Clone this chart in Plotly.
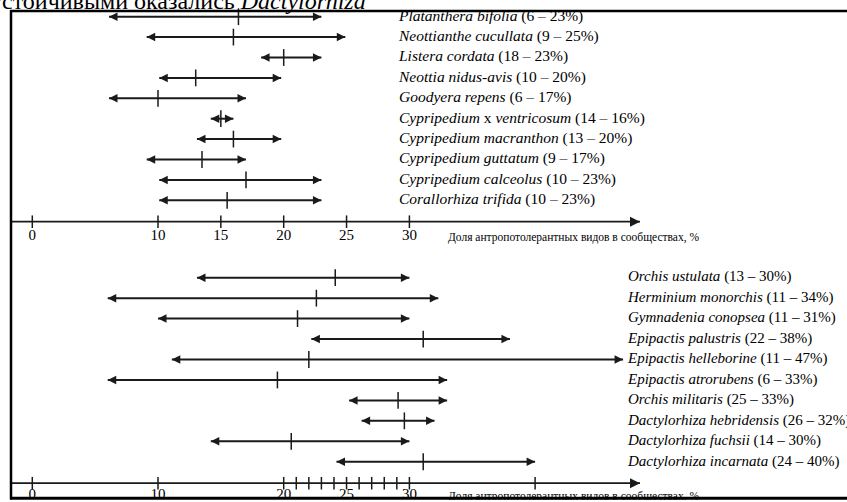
import plotly.graph_objects as go

# ---------------- data ----------------
top_species = [
    "<i>Platanthera bifolia</i>",
    "<i>Neottianthe cucullata</i>",
    "<i>Listera cordata</i>",
    "<i>Neottia nidus-avis</i>",
    "<i>Goodyera repens</i>",
    "<i>Cypripedium</i> x <i>ventricosum</i>",
    "<i>Cypripedium macranthon</i>",
    "<i>Cypripedium guttatum</i>",
    "<i>Cypripedium calceolus</i>",
    "<i>Corallorhiza trifida</i>",
]
top_ranges = ["(6 – 23%)", "(9 – 25%)", "(18 – 23%)", "(10 – 20%)", "(6 – 17%)",
              "(14 – 16%)", "(13 – 20%)", "(9 – 17%)", "(10 – 23%)", "(10 – 23%)"]
top_low = [6.1, 9.1, 18.2, 10.1, 6.1, 14.2, 13.1, 9.1, 10.1, 10.1]
top_high = [23.0, 24.9, 23.0, 19.8, 17.0, 16.0, 19.8, 17.0, 23.0, 23.0]
top_mid = [16.4, 16.0, 20.0, 13.0, 10.0, 15.0, 16.0, 13.5, 17.0, 15.5]

bottom_species = [
    "<i>Orchis ustulata</i>",
    "<i>Herminium monorchis</i>",
    "<i>Gymnadenia conopsea</i>",
    "<i>Epipactis palustris</i>",
    "<i>Epipactis helleborine</i>",
    "<i>Epipactis atrorubens</i>",
    "<i>Orchis militaris</i>",
    "<i>Dactylorhiza hebridensis</i>",
    "<i>Dactylorhiza fuchsii</i>",
    "<i>Dactylorhiza incarnata</i>",
]
bottom_ranges = ["(13 – 30%)", "(11 – 34%)", "(11 – 31%)", "(22 – 38%)", "(11 – 47%)",
                 "(6 – 33%)", "(25 – 33%)", "(26 – 32%)", "(14 – 30%)", "(24 – 40%)"]
bottom_low = [13.1, 6.0, 10.0, 22.2, 11.1, 6.0, 25.2, 26.2, 14.2, 24.2]
bottom_high = [30.0, 32.3, 30.0, 38.0, 47.0, 33.0, 33.0, 32.0, 30.0, 40.0]
bottom_mid = [24.1, 22.6, 21.1, 31.1, 22.0, 19.5, 29.1, 29.6, 20.6, 31.1]

top_tick_vals = [0, 10, 15, 20, 25, 30]
top_tick_labels = ["0", "10", "15", "20", "25", "30"]
bottom_tick_vals = [0, 10, 20, 21, 22, 23, 24, 25, 26, 27, 28, 29, 30, 40]
bottom_tick_labels = ["0", "10", "20", "", "", "", "", "25", "", "", "", "", "30", ""]

axis_title = "Доля антропотолерантных видов в сообществах, %"
heading = "устойчивыми оказались <i>Dactylorhiza</i>"

# ---------------- geometry / style ----------------
W, H = 847, 502
PX_ZERO = 32.3          # pixel of value 0
PX_PER_UNIT = 12.57     # pixels per percent
INK = "#1a1a1a"
FONT = "Liberation Serif, Times New Roman, serif"

TOP_ROW0_PX, TOP_STEP = 16.7, 20.4
BOT_ROW0_PX, BOT_STEP = 277.7, 20.45
AXIS_ROW_TOP = 10.05
AXIS_ROW_BOT = 10.05


def px_to_x(px):
    return (px - PX_ZERO) / PX_PER_UNIT


def yrange(row0_px, step):
    return [(H - row0_px) / step, (0 - row0_px) / step]


fig = go.Figure()


def add_panel(species, ranges, low, high, mid, yaxis, label_px,
              tick_vals, tick_labels, axis_row, label_size, ticklabel_offset):
    rows = list(range(len(species)))
    lx, ly = [], []
    for r, a, b in zip(rows, low, high):
        lx += [a, b, None]
        ly += [r, r, None]
    fig.add_trace(go.Scatter(x=lx, y=ly, yaxis=yaxis, mode="lines",
                             line=dict(color=INK, width=2), hoverinfo="skip"))
    fig.add_trace(go.Scatter(x=low, y=rows, yaxis=yaxis, mode="markers",
                             marker=dict(symbol="arrow-left", size=8.5, color=INK,
                                         line=dict(width=0)), hoverinfo="skip"))
    fig.add_trace(go.Scatter(x=high, y=rows, yaxis=yaxis, mode="markers",
                             marker=dict(symbol="arrow-right", size=8.5, color=INK,
                                         line=dict(width=0)), hoverinfo="skip"))
    fig.add_trace(go.Scatter(x=mid, y=rows, yaxis=yaxis, mode="markers",
                             marker=dict(symbol="line-ns", size=12,
                                         line=dict(color=INK, width=1.5)),
                             hoverinfo="skip"))
    labels = [f"{s} {rg}" for s, rg in zip(species, ranges)]
    fig.add_trace(go.Scatter(x=[px_to_x(label_px)] * len(rows), y=rows, yaxis=yaxis,
                             mode="text", text=labels, textposition="middle right",
                             textfont=dict(family=FONT, size=label_size, color="black"),
                             hoverinfo="skip"))
    # axis line with arrow
    x0, x1 = px_to_x(11), px_to_x(640)
    fig.add_trace(go.Scatter(x=[x0, x1], y=[axis_row, axis_row], yaxis=yaxis,
                             mode="lines", line=dict(color=INK, width=1.8),
                             hoverinfo="skip"))
    fig.add_trace(go.Scatter(x=[x1], y=[axis_row], yaxis=yaxis, mode="markers",
                             marker=dict(symbol="arrow-right", size=10, color=INK,
                                         line=dict(width=0)), hoverinfo="skip"))
    fig.add_trace(go.Scatter(x=tick_vals, y=[axis_row] * len(tick_vals), yaxis=yaxis,
                             mode="markers",
                             marker=dict(symbol="line-ns", size=9,
                                         line=dict(color=INK, width=1.5)),
                             hoverinfo="skip"))
    fig.add_trace(go.Scatter(x=tick_vals, y=[axis_row + ticklabel_offset] * len(tick_vals),
                             yaxis=yaxis, mode="text", text=tick_labels,
                             textposition="middle center",
                             textfont=dict(family=FONT, size=15, color="black"),
                             hoverinfo="skip"))
    fig.add_trace(go.Scatter(x=[px_to_x(448)], y=[axis_row + ticklabel_offset + 0.08],
                             yaxis=yaxis, mode="text", text=[axis_title],
                             textposition="middle right",
                             textfont=dict(family=FONT, size=11.5, color="black"),
                             hoverinfo="skip"))


add_panel(top_species, top_ranges, top_low, top_high, top_mid, "y", 399,
          top_tick_vals, top_tick_labels, AXIS_ROW_TOP, 15.5, 0.72)
add_panel(bottom_species, bottom_ranges, bottom_low, bottom_high, bottom_mid, "y2", 628,
          bottom_tick_vals, bottom_tick_labels, AXIS_ROW_BOT, 15, 0.58)

fy = lambda px: 1 - px / H
fx = lambda px: px / W

shapes = [
    dict(type="rect", xref="paper", yref="paper", x0=0, x1=1, y0=0, y1=fy(499.8),
         fillcolor="white", line=dict(width=0), layer="above"),
    dict(type="line", xref="paper", yref="paper", x0=fx(11), x1=fx(11),
         y0=fy(10), y1=fy(499.5), line=dict(color="black", width=2.5), layer="above"),
    dict(type="line", xref="paper", yref="paper", x0=fx(10), x1=1,
         y0=fy(11), y1=fy(11), line=dict(color="black", width=2.5), layer="above"),
    dict(type="line", xref="paper", yref="paper", x0=fx(10), x1=1,
         y0=fy(498.3), y1=fy(498.3), line=dict(color="black", width=3), layer="above"),
]

fig.update_layout(
    width=W, height=H,
    margin=dict(l=0, r=0, t=0, b=0, pad=0, autoexpand=False),
    paper_bgcolor="white", plot_bgcolor="white",
    showlegend=False, hovermode=False,
    xaxis=dict(range=[px_to_x(0), px_to_x(W)], visible=False, fixedrange=True),
    yaxis=dict(range=yrange(TOP_ROW0_PX, TOP_STEP), visible=False, fixedrange=True),
    yaxis2=dict(range=yrange(BOT_ROW0_PX, BOT_STEP), visible=False, fixedrange=True,
                overlaying="y"),
    shapes=shapes,
    annotations=[dict(text=heading, xref="paper", yref="paper", x=fx(-12), y=fy(1),
                      xanchor="left", yanchor="middle", showarrow=False,
                      font=dict(family=FONT, size=24, color="black"))],
)

fig.write_html(
    "out.html",
    config={"displayModeBar": False, "staticPlot": True},
    post_script="document.body.style.margin='0px';document.body.style.overflow='hidden';",
)
